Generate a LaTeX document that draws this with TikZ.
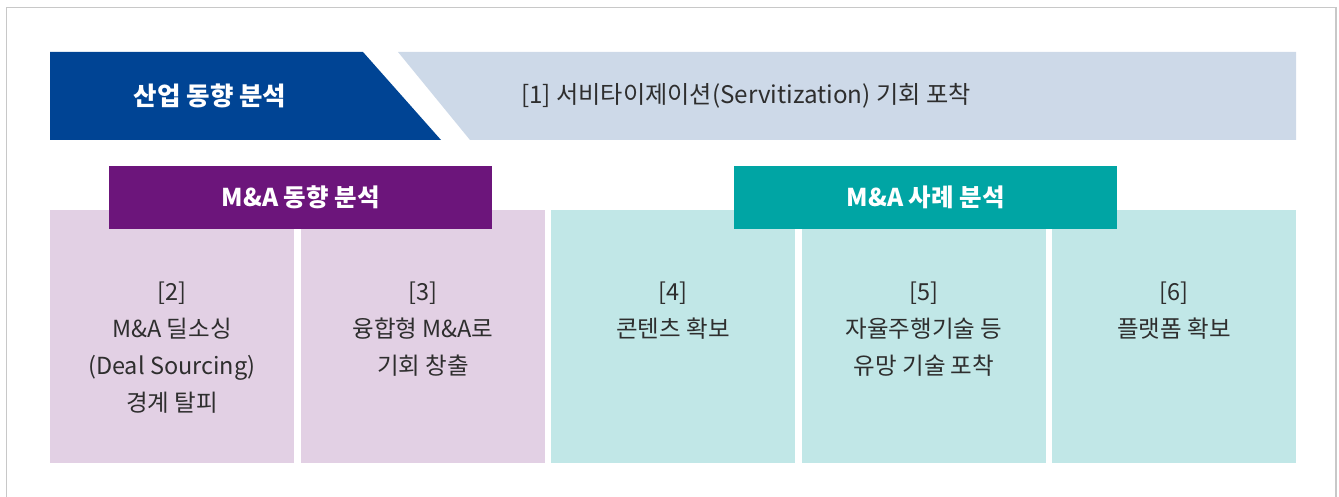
\documentclass[tikz,border=0pt]{standalone}
\usepackage{fontspec}
\setmainfont{Noto Sans CJK KR}
\definecolor{dblue}{HTML}{004494}
\definecolor{lblue}{HTML}{CDD9E8}
\definecolor{dpurple}{HTML}{6C157B}
\definecolor{lpurple}{HTML}{E2D0E4}
\definecolor{dteal}{HTML}{00A5A4}
\definecolor{lteal}{HTML}{C1E7E7}
\definecolor{txt}{HTML}{2E2E2E}
\definecolor{frame}{HTML}{C8C8C8}
\tikzset{
  cell/.style={rectangle, inner sep=0pt, minimum width=244pt, minimum height=253pt, anchor=north west},
  head/.style={rectangle, inner sep=0pt, minimum width=383pt, minimum height=63pt, anchor=north west, text=white, font=\fontsize{24.5}{28}\selectfont\bfseries},
  celltext/.style={anchor=base, align=center, text=txt, inner sep=0pt, font=\fontsize{23.5}{37}\selectfont},
}
\begin{document}
\begin{tikzpicture}[x=1pt,y=-1pt]
\useasboundingbox (0,0) rectangle (1339,497);
% outer frame
\draw[frame, line width=1.5pt] (6.5,520) -- (6.5,7.5) -- (1336,7.5) -- (1336,520);
% top band
\fill[lblue] (398,52) -- (1296,52) -- (1296,140) -- (470,140) -- cycle;
\fill[dblue] (50,52) -- (363,52) -- (441,140) -- (50,140) -- cycle;
\node[font=\fontsize{25.5}{29}\selectfont\bfseries, text=white, inner sep=0pt] (ind) at (210,96) {산업 동향 분석};
\node[font=\fontsize{24.2}{28}\selectfont, text=txt, inner sep=0pt] (serv) at (746,96) {[1] 서비타이제이션(Servitization) 기회 포착};
% cells
\node[cell, fill=lpurple] (c2) at (50,210) {};
\node[cell, fill=lpurple] (c3) at (301,210) {};
\node[cell, fill=lteal] (c4) at (551,210) {};
\node[cell, fill=lteal] (c5) at (802,210) {};
\node[cell, fill=lteal] (c6) at (1052,210) {};
% headers
\node[head, fill=dpurple] (h1) at (109,166) {M\&A 동향 분석};
\node[head, fill=dteal] (h2) at (734,166) {M\&A 사례 분석};
% cell texts (base = last line's baseline)
\node[celltext] (t2) at (172,411) {[2]\\M\&A 딜소싱\\(Deal Sourcing)\\경계 탈피};
\node[celltext] (t3) at (423,374) {[3]\\융합형 M\&A로\\기회 창출};
\node[celltext] (t4) at (673,337) {[4]\\콘텐츠 확보};
\node[celltext] (t5) at (924,374) {[5]\\자율주행기술 등\\유망 기술 포착};
\node[celltext] (t6) at (1174,337) {[6]\\플랫폼 확보};
\end{tikzpicture}
\end{document}
